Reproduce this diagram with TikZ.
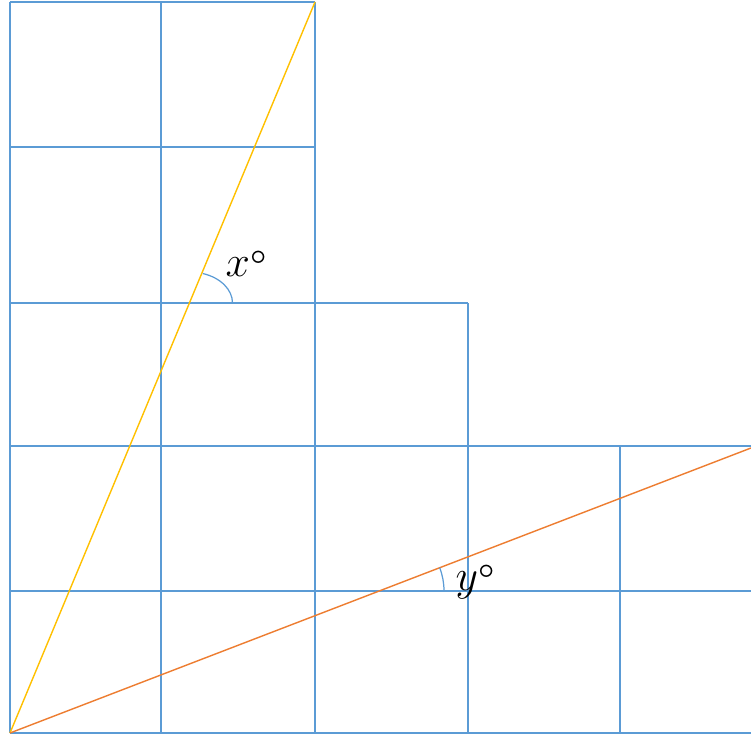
\documentclass[tikz,border=0pt]{standalone}
\usepackage{amsmath}
\usepackage{amssymb}
\usepackage{tikz}
\usetikzlibrary{positioning}

\definecolor{gridblue}{RGB}{91,155,213}
\definecolor{gold}{RGB}{255,192,0}
\definecolor{rust}{RGB}{237,125,49}
\newcommand{\degmark}{\raisebox{-0.35ex}{\textdegree}}

\begin{document}
\begin{tikzpicture}[gridline/.style={draw=gridblue, line width=0.8pt},
    ray/.style={line width=0.8pt},
    anglemark/.style={draw=gridblue, line width=0.7pt},
    anglelabel/.style={font=\fontsize{27}{30}\selectfont, inner sep=0pt}]
    \useasboundingbox (-0.2,-0.04) rectangle (14.82,14.66);

    % columns
    \draw[gridline] (0,0) -- (0,14.62);
    \draw[gridline] (3.02,0) -- (3.02,14.62);
    \draw[gridline] (6.10,0) -- (6.10,14.62);
    \draw[gridline] (9.16,0) -- (9.16,8.60);
    \draw[gridline] (12.20,0) -- (12.20,5.74);

    % rows
    \draw[gridline] (0,0) -- (14.82,0);
    \draw[gridline] (0,2.84) -- (14.82,2.84);
    \draw[gridline] (0,5.74) -- (14.82,5.74);
    \draw[gridline] (0,8.60) -- (9.16,8.60);
    \draw[gridline] (0,11.72) -- (6.10,11.72);
    \draw[gridline] (0,14.62) -- (6.10,14.62);

    % the two rays
    \coordinate (o) at (0,0);
    \coordinate (steep) at (6.10,14.62);
    \coordinate (flat) at (14.82,5.70);
    \draw[ray, gold] (o) -- (steep);
    \draw[ray, rust] (o) -- (flat);

    % angles
    \draw[anglemark] (4.45,8.60) arc[start angle=0, end angle=72, x radius=0.86, y radius=0.62];
    \draw[anglemark] (8.68,2.84) arc[start angle=0, end angle=21, radius=1.30];
    \node[anglelabel] (xlab) at (4.72,9.32) {$x$\degmark};
    \node[anglelabel] (ylab) at (9.30,3.02) {$y$\degmark};
\end{tikzpicture}
\end{document}
